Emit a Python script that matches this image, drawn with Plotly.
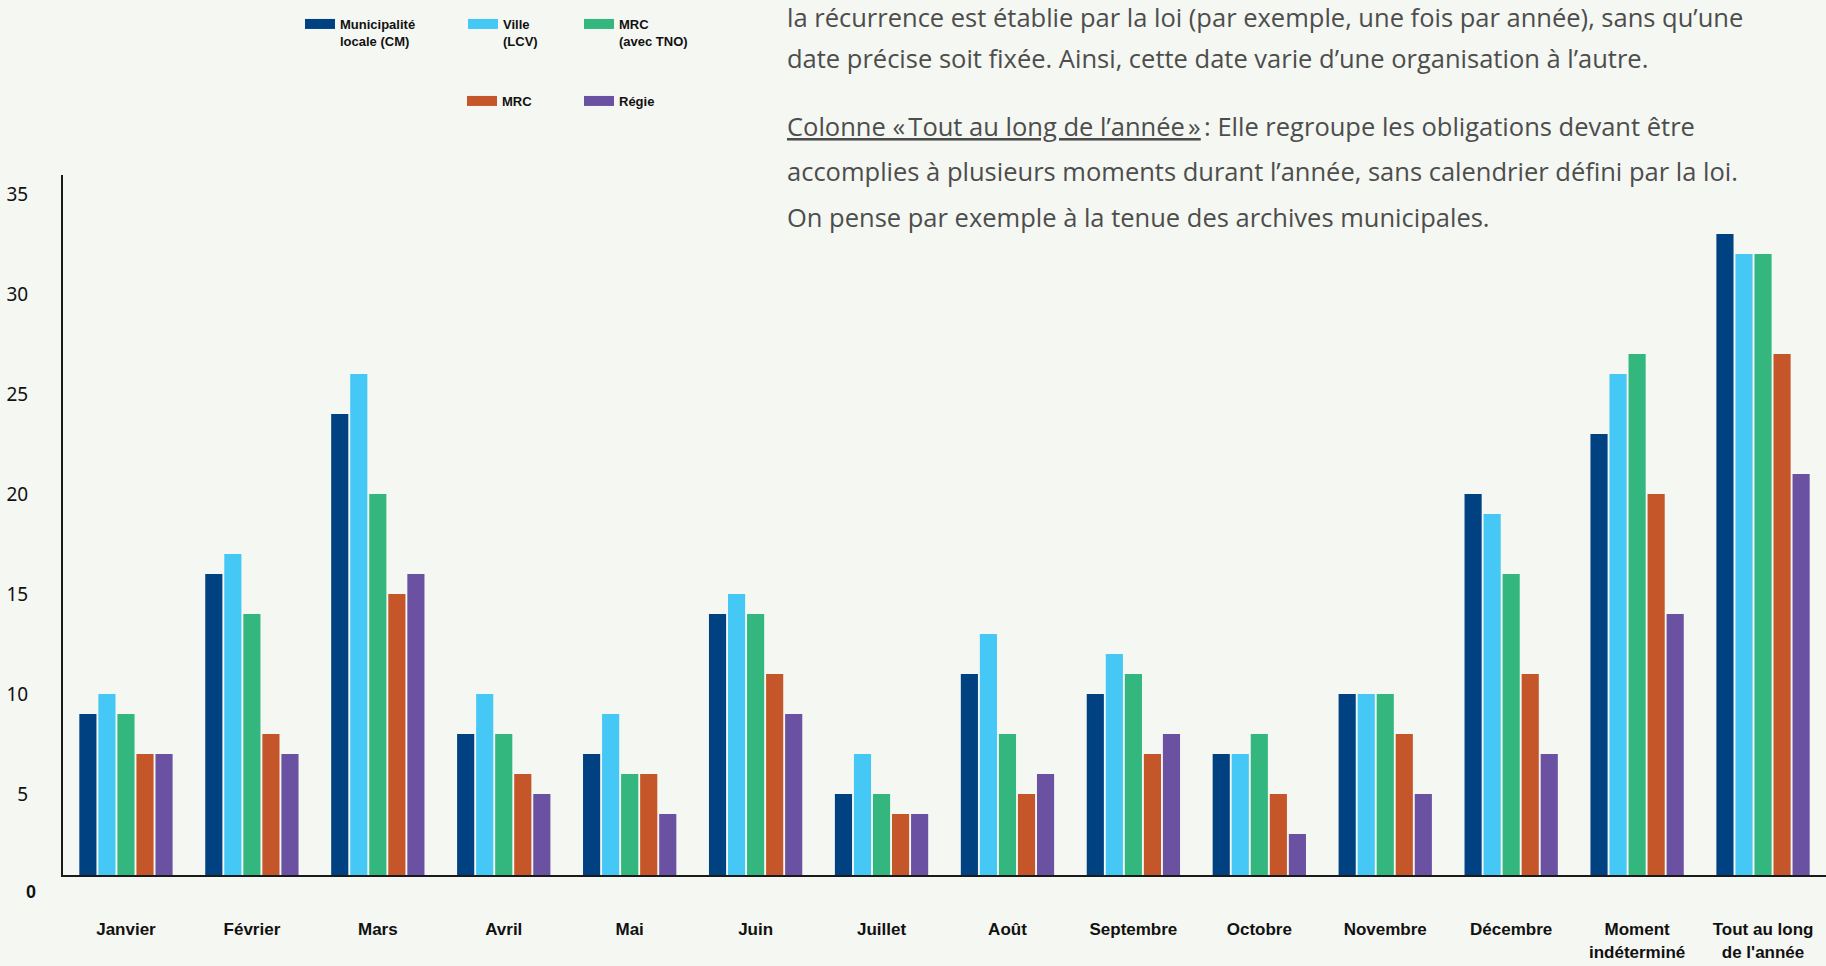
import plotly.graph_objects as go

# ---------------- data ----------------
categories = ["Janvier", "Février", "Mars", "Avril", "Mai", "Juin", "Juillet", "Août",
              "Septembre", "Octobre", "Novembre", "Décembre",
              "Moment<br>indéterminé", "Tout au long<br>de l'année"]
cm_values = [9, 16, 24, 8, 7, 14, 5, 11, 10, 7, 10, 20, 23, 33]
ville_values = [10, 17, 26, 10, 9, 15, 7, 13, 12, 7, 10, 19, 26, 32]
mrc_tno_values = [9, 14, 20, 8, 6, 14, 5, 8, 11, 8, 10, 16, 27, 32]
mrc_values = [7, 8, 15, 6, 6, 11, 4, 5, 7, 5, 8, 11, 20, 27]
regie_values = [7, 7, 16, 5, 4, 9, 4, 6, 8, 3, 5, 7, 14, 21]
series_names = ["Municipalité<br>locale (CM)", "Ville<br>(LCV)", "MRC<br>(avec TNO)", "MRC", "Régie"]
y_tick_values = [5, 10, 15, 20, 25, 30, 35]
zero_label = "0"
paragraph_lines = [
    "la récurrence est établie par la loi (par exemple, une fois par année), sans qu’une",
    "date précise soit fixée. Ainsi, cette date varie d’une organisation à l’autre.",
    "<span style=\"text-decoration:underline\">Colonne «\u202fTout au long de l’année\u202f»</span>\u202f: Elle regroupe les obligations devant être",
    "accomplies à plusieurs moments durant l’année, sans calendrier défini par la loi.",
    "On pense par exemple à la tenue des archives municipales.",
]

# ---------------- style ----------------
W, H = 1826, 966
PLOT_L, PLOT_R, PLOT_T, PLOT_B = 63, 1826, 175, 875
BG = "#F5F7F2"
colors = ["#004182", "#45C8F5", "#34B77F", "#C55629", "#6B51A2"]
LABEL_FONT = "Liberation Sans, Arial, sans-serif"

all_values = [cm_values, ville_values, mrc_tno_values, mrc_values, regie_values]
legend_ids = ["legend", "legend2", "legend3", "legend4", "legend5"]
legend_pos = [(300, 9), (463, 9), (579, 9), (462, 86), (579, 86)]

fig = go.Figure()
for name, vals, col, lid in zip(series_names, all_values, colors, legend_ids):
    fig.add_trace(go.Bar(x=categories, y=vals, name=name, legendgroup=name, showlegend=False,
                         marker=dict(color=col, line=dict(width=0))))
    # wide swatch for the legend entry (same group as the bars)
    fig.add_trace(go.Scatter(x=[None], y=[None], name=name, legendgroup=name, legend=lid,
                             mode="lines", line=dict(color=col, width=12), hoverinfo="skip"))

def px_x(px):
    return (px - PLOT_L) / (PLOT_R - PLOT_L)

def px_y(py):
    return (PLOT_B - py) / (PLOT_B - PLOT_T)

legend_common = dict(orientation="h", xref="container", yref="container", xanchor="left", yanchor="top",
                     bgcolor="rgba(0,0,0,0)", borderwidth=0, valign="top",
                     font=dict(family=LABEL_FONT, size=13, color="#111111", weight="bold"), itemwidth=30)
layout_legends = {}
for lid, (lx, ly) in zip(legend_ids, legend_pos):
    layout_legends[lid] = dict(legend_common, x=lx / W, y=1 - ly / H)

# axis scale: label value v sits at pixel 894 - 20 v ; baseline drawn at 875
y_lo = (894 - PLOT_B) / 20
y_hi = (894 - PLOT_T) / 20

annotations = []
line_y = [17, 58, 126, 171, 217]
for txt, ly in zip(paragraph_lines, line_y):
    annotations.append(dict(text=txt, xref="paper", yref="paper", x=px_x(785), y=px_y(ly),
                            xanchor="left", yanchor="middle", showarrow=False, align="left",
                            font=dict(family="Open Sans, Noto Sans, sans-serif", size=25.5, color="#4D4D4D")))
annotations.append(dict(text=zero_label, xref="paper", yref="paper", x=px_x(31), y=px_y(892),
                        xanchor="center", yanchor="middle", showarrow=False,
                        font=dict(family=LABEL_FONT, size=18, color="#111111", weight="bold")))

fig.update_layout(
    width=W, height=H,
    margin=dict(l=PLOT_L, r=W - PLOT_R, t=PLOT_T, b=H - PLOT_B, autoexpand=False),
    paper_bgcolor=BG, plot_bgcolor=BG,
    barmode="group", bargap=0.244, bargroupgap=0.1,
    showlegend=True,
    annotations=annotations,
    **layout_legends,
)
fig.update_xaxes(showline=True, linecolor="#1a1a1a", linewidth=2, showgrid=False, zeroline=False,
                 ticks="", ticklabelstandoff=38,
                 tickfont=dict(family=LABEL_FONT, size=17, color="#111111", weight="bold"), fixedrange=True)
fig.update_yaxes(range=[y_lo, y_hi], showline=True, linecolor="#1a1a1a", linewidth=2, showgrid=False,
                 zeroline=False, tickvals=y_tick_values, ticks="", ticklabelstandoff=29,
                 tickfont=dict(family="Noto Sans, Open Sans, sans-serif", size=19, color="#111111"),
                 fixedrange=True)

fig.write_html("out.html", config={"displayModeBar": False},
               post_script="document.body.style.margin='0';document.body.style.overflow='hidden';")
